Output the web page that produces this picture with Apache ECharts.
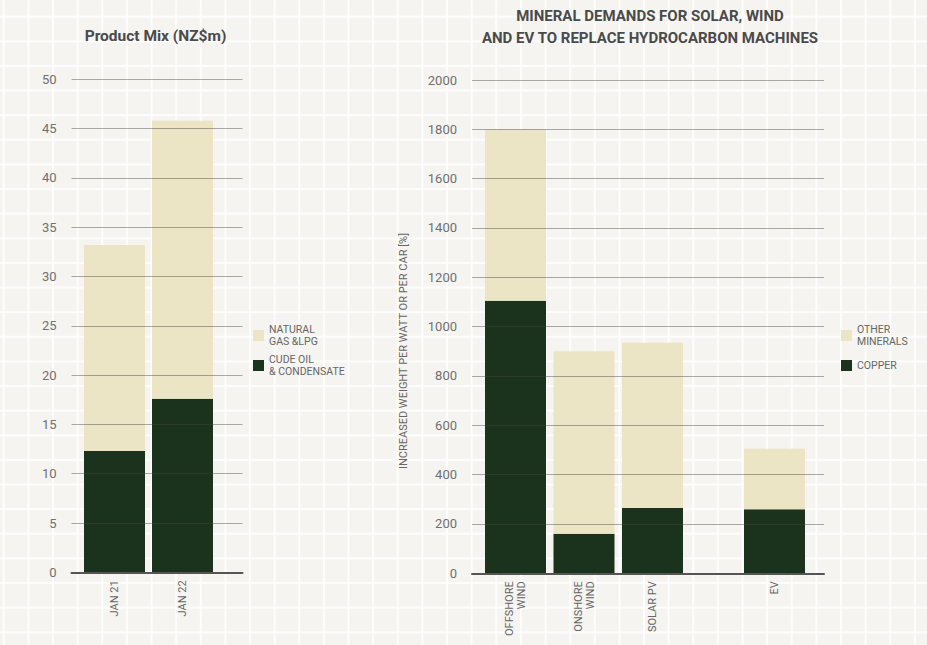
<!DOCTYPE html>
<html>
<head>
<meta charset="utf-8">
<script src="https://cdn.jsdelivr.net/npm/echarts@6/dist/echarts.min.js"></script>
<style>
  html, body { margin: 0; padding: 0; }
  body {
    width: 927px; height: 645px; overflow: hidden;
    background-color: #f5f4f0;
    background-image:
      linear-gradient(to right, rgba(255,255,255,0.85) 1.6px, transparent 1.6px),
      linear-gradient(to bottom, rgba(255,255,255,0.85) 1.6px, transparent 1.6px);
    background-size: 24.64px 24.64px;
    background-position: 2.8px 15.7px;
  }
  #chart { width: 927px; height: 645px; }
</style>
</head>
<body>
<div id="chart"></div>
<script>
// ---- data ----
const productCategories = ['JAN 21', 'JAN 22'];
const crudeOil = [12.3, 17.6];
const naturalGas = [20.9, 28.2];
const productAxis = { min: 0, max: 50, interval: 5 };

const mineralCategories = ['OFFSHORE\nWIND', 'ONSHORE\nWIND', 'SOLAR PV', 'EV'];
const copper = [1105, 160, 265, 260];
const otherMinerals = [695, 740, 670, 245];
const mineralAxis = { min: 0, max: 2000, interval: 200 };

const leftTitle = 'Product Mix (NZ$m)';
const rightTitle = 'MINERAL DEMANDS FOR SOLAR, WIND\nAND EV TO REPLACE HYDROCARBON MACHINES';
const rightAxisName = 'INCREASED WEIGHT PER WATT OR PER CAR [%]';
const gasName = 'NATURAL\nGAS &LPG';
const crudeName = 'CUDE OIL\n& CONDENSATE';
const otherName = 'OTHER\nMINERALS';
const copperName = 'COPPER';

// ---- styles ----
const FONT = 'Roboto, "Noto Sans", sans-serif';
const CREAM = '#ebe4c5';
const DARK = '#1b331c';
const tickColor = '#707070';
const splitColor = 'rgba(70,70,70,0.45)';

const chart = echarts.init(document.getElementById('chart'), null, { renderer: 'svg' });

function frameX(gridIndex) {
  return {
    type: 'category', gridIndex, data: [''],
    axisLine: { show: true, lineStyle: { color: '#555', width: 2 } },
    axisTick: { show: false }, axisLabel: { show: false }, z: 10
  };
}
function frameY(gridIndex, ax) {
  return {
    type: 'value', gridIndex, min: ax.min, max: ax.max, interval: ax.interval,
    axisLine: { show: false }, axisTick: { show: false },
    axisLabel: { color: tickColor, fontSize: 13, fontFamily: FONT, margin: 15,
                 formatter: function (v) { return String(v); } },
    splitLine: { show: true, lineStyle: { color: splitColor, width: 1 } },
    z: 10
  };
}
function barX(gridIndex, data) {
  return {
    type: 'category', gridIndex, data,
    axisLine: { show: false }, axisTick: { show: false },
    axisLabel: {
      rotate: 90, margin: 8, color: '#666', fontSize: 11, fontFamily: FONT,
      lineHeight: 12, interval: 0
    }
  };
}
function hiddenY(gridIndex, ax) {
  return { type: 'value', gridIndex, min: ax.min, max: ax.max, show: false, splitLine: { show: false } };
}

const legendText = { color: '#666', fontSize: 10.5, lineHeight: 12, fontFamily: FONT };

const option = {
  animation: false,
  backgroundColor: 'transparent',
  textStyle: { fontFamily: FONT },
  grid: [
    { left: 71.5, width: 171, top: 79.3, height: 493 },     // left frame
    { left: 80.5, width: 136, top: 79.3, height: 493 },     // left bars
    { left: 472, width: 352, top: 80, height: 493.3 },      // right frame
    { left: 481.25, width: 205.5, top: 80, height: 493.3 }, // right bars (wind/solar)
    { left: 740.5, width: 68, top: 80, height: 493.3 }      // right bars (EV)
  ],
  xAxis: [
    frameX(0),
    barX(1, productCategories),
    frameX(2),
    barX(3, mineralCategories.slice(0, 3)),
    barX(4, mineralCategories.slice(3))
  ],
  yAxis: [
    frameY(0, productAxis),
    hiddenY(1, productAxis),
    frameY(2, mineralAxis),
    hiddenY(3, mineralAxis),
    hiddenY(4, mineralAxis)
  ],
  legend: [
    {
      orient: 'vertical', left: 253, top: 323.5, padding: 0, itemGap: 6,
      itemWidth: 11, itemHeight: 11, icon: 'rect',
      data: [gasName, crudeName], textStyle: legendText
    },
    {
      orient: 'vertical', left: 841, top: 323.5, padding: 0, itemGap: 12,
      itemWidth: 11, itemHeight: 11, icon: 'rect',
      data: [otherName, copperName], textStyle: legendText
    }
  ],
  graphic: [
    {
      type: 'text', x: 155.5, y: 35.5,
      style: { text: leftTitle, fill: '#4a4a4a', font: 'bold 15.5px ' + FONT, align: 'center', verticalAlign: 'middle' }
    },
    {
      type: 'text', x: 650, y: 27,
      style: { text: rightTitle, fill: '#4a4a4a', font: 'bold 15px ' + FONT, lineHeight: 22, align: 'center', verticalAlign: 'middle' }
    },
    {
      type: 'text', x: 403, y: 351, rotation: Math.PI / 2,
      style: { text: rightAxisName, fill: '#666', font: '11px ' + FONT, align: 'center', verticalAlign: 'middle' }
    }
  ],
  series: [
    { name: crudeName, type: 'bar', xAxisIndex: 1, yAxisIndex: 1, stack: 'p', barWidth: 61,
      itemStyle: { color: DARK }, data: crudeOil },
    { name: gasName, type: 'bar', xAxisIndex: 1, yAxisIndex: 1, stack: 'p', barWidth: 61,
      itemStyle: { color: CREAM }, data: naturalGas },
    { name: copperName, type: 'bar', xAxisIndex: 3, yAxisIndex: 3, stack: 'm', barWidth: 61,
      itemStyle: { color: DARK }, data: copper.slice(0, 3) },
    { name: otherName, type: 'bar', xAxisIndex: 3, yAxisIndex: 3, stack: 'm', barWidth: 61,
      itemStyle: { color: CREAM }, data: otherMinerals.slice(0, 3) },
    { name: copperName, type: 'bar', xAxisIndex: 4, yAxisIndex: 4, stack: 'e', barWidth: 61,
      itemStyle: { color: DARK }, data: copper.slice(3) },
    { name: otherName, type: 'bar', xAxisIndex: 4, yAxisIndex: 4, stack: 'e', barWidth: 61,
      itemStyle: { color: CREAM }, data: otherMinerals.slice(3) }
  ]
};
chart.setOption(option);
</script>
</body>
</html>
